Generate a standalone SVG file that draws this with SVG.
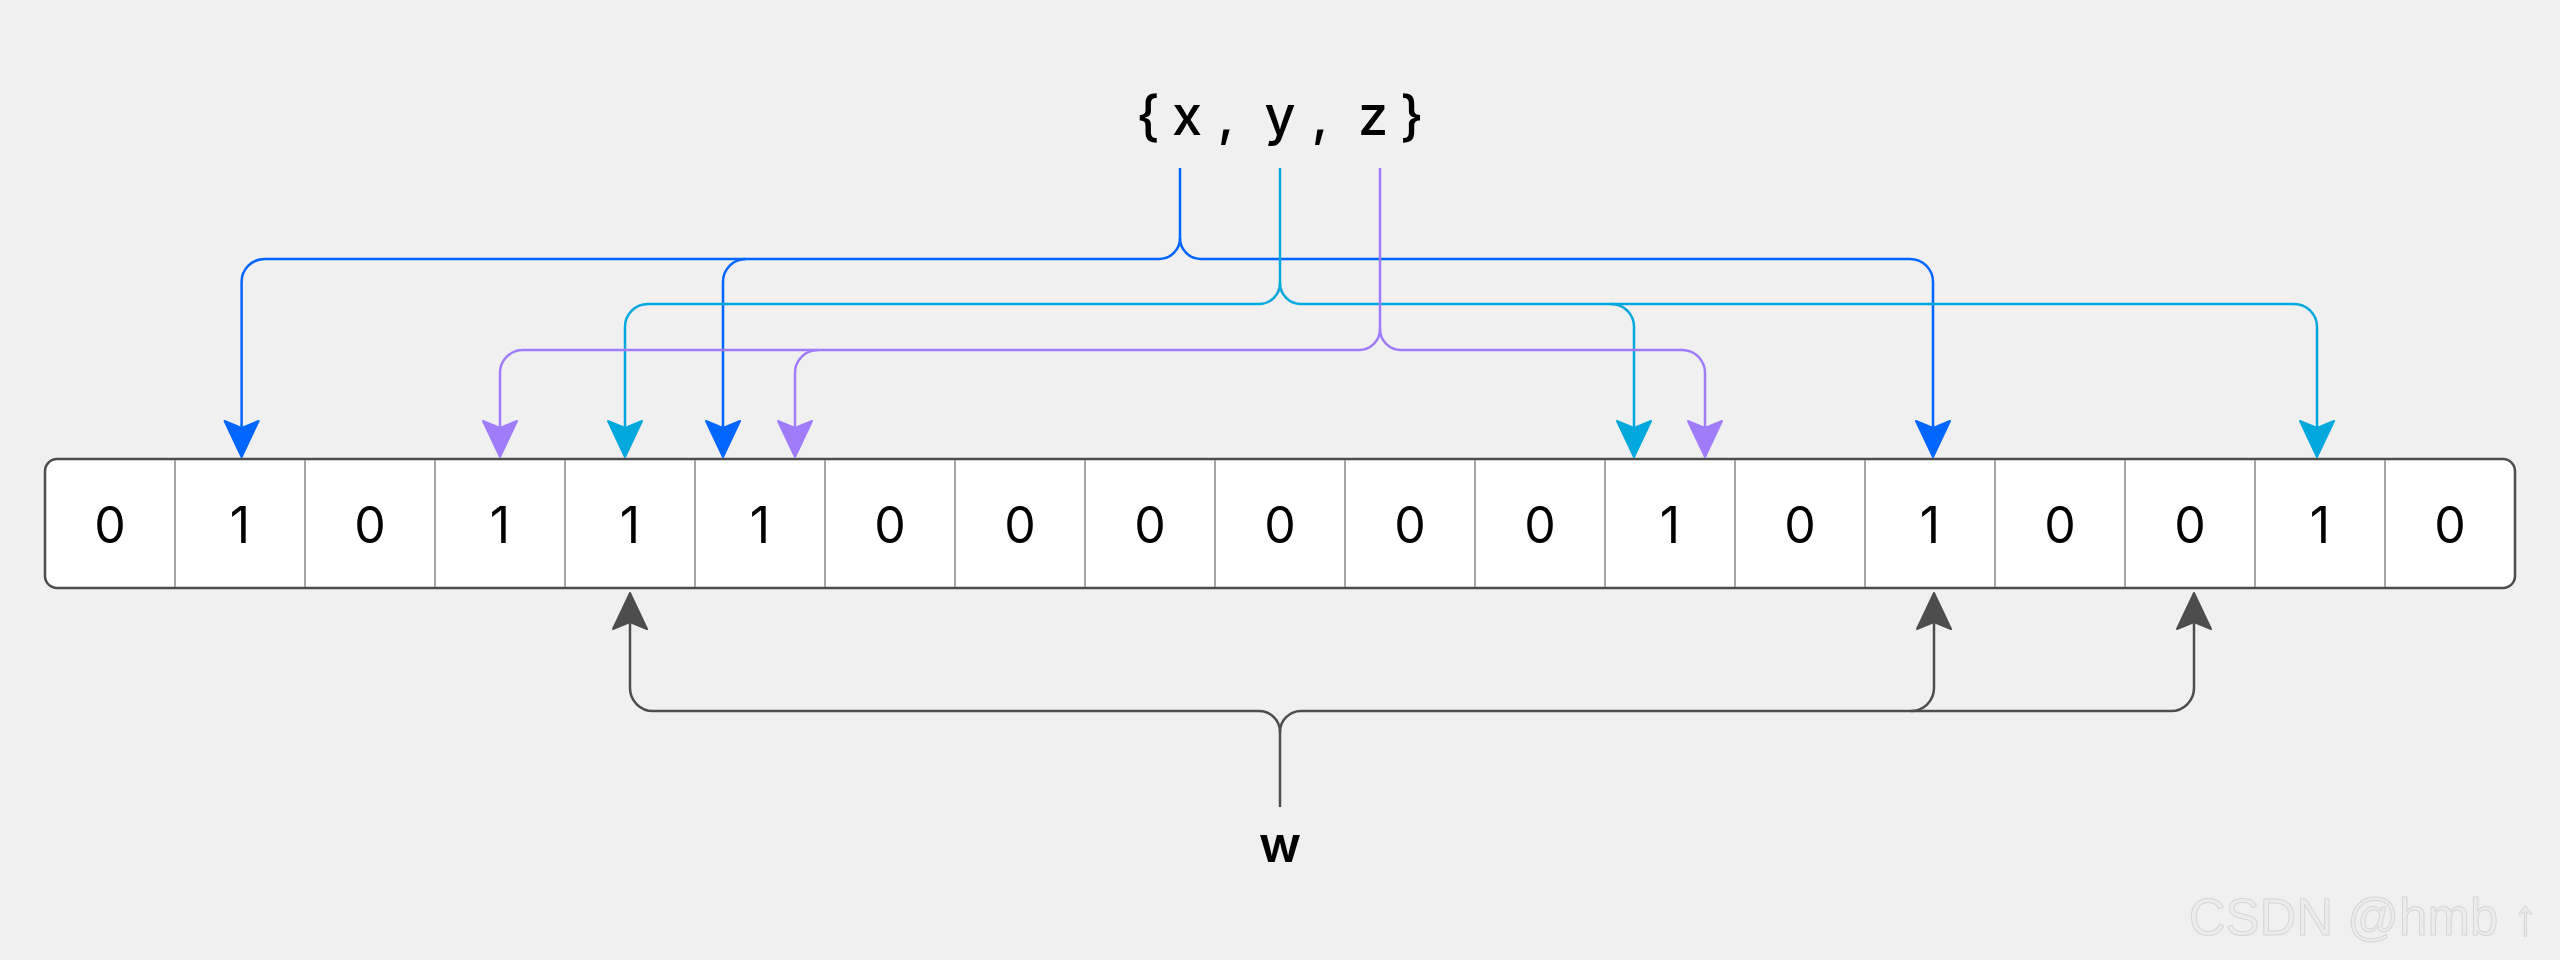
<svg xmlns="http://www.w3.org/2000/svg" width="2560" height="960" viewBox="0 0 2560 960">
  <style>
    .cell-div { stroke: #8f8f8f; stroke-width: 1.6; }
    .digit { font-family: Inter, "Liberation Sans", sans-serif; font-size: 50px; font-weight: 400; fill: #000; text-anchor: middle; }
    .label { font-family: Inter, "Liberation Sans", sans-serif; font-size: 54px; font-weight: 500; fill: #000; text-anchor: middle; }
    .conn { fill: none; stroke-width: 2.5; stroke-linecap: butt; stroke-linejoin: round; }
    .blue { stroke: #0066ff; }
    .cyan { stroke: #00a8dd; }
    .purple { stroke: #a07cfa; }
    .gray { stroke: #4d4d4d; }
    .wm { font-family: "Liberation Sans", Arial, sans-serif; font-size: 51px; fill: #ececec; stroke: #d6d6d6; stroke-width: 1; text-anchor: end; }
  </style>
  <defs>
    <marker id="ah-blue" markerUnits="userSpaceOnUse" markerWidth="40" markerHeight="40" refX="0" refY="0" orient="auto" overflow="visible">
      <path d="M29,0 L-7,-17 L0,0 L-7,17 Z" fill="#0066ff" stroke="#0066ff" stroke-width="2" stroke-linejoin="round"/>
    </marker>
    <marker id="ah-cyan" markerUnits="userSpaceOnUse" markerWidth="40" markerHeight="40" refX="0" refY="0" orient="auto" overflow="visible">
      <path d="M29,0 L-7,-17 L0,0 L-7,17 Z" fill="#00a8dd" stroke="#00a8dd" stroke-width="2" stroke-linejoin="round"/>
    </marker>
    <marker id="ah-purple" markerUnits="userSpaceOnUse" markerWidth="40" markerHeight="40" refX="0" refY="0" orient="auto" overflow="visible">
      <path d="M29,0 L-7,-17 L0,0 L-7,17 Z" fill="#a07cfa" stroke="#a07cfa" stroke-width="2" stroke-linejoin="round"/>
    </marker>
    <marker id="ah-gray" markerUnits="userSpaceOnUse" markerWidth="40" markerHeight="40" refX="0" refY="0" orient="auto" overflow="visible">
      <path d="M29,0 L-7,-17 L0,0 L-7,17 Z" fill="#4d4d4d" stroke="#4d4d4d" stroke-width="2" stroke-linejoin="round"/>
    </marker>
  </defs>

  <rect x="0" y="0" width="2560" height="960" fill="#f0f0f0"/>

  <g id="set-label">
    <text class="label" x="1148" y="135">{</text>
    <text class="label" x="1187" y="135">x</text>
    <text class="label" x="1226" y="135">,</text>
    <text class="label" x="1280" y="135">y</text>
    <text class="label" x="1320" y="135">,</text>
    <text class="label" x="1373" y="135">z</text>
    <text class="label" x="1412" y="135">}</text>
  </g>

  <g id="bit-array">
    <rect x="45" y="459" width="2470" height="129" rx="12" ry="12" fill="#ffffff" stroke="#4d4d4d" stroke-width="2.5"/>
    <line class="cell-div" x1="175" y1="460" x2="175" y2="587"/>
    <line class="cell-div" x1="305" y1="460" x2="305" y2="587"/>
    <line class="cell-div" x1="435" y1="460" x2="435" y2="587"/>
    <line class="cell-div" x1="565" y1="460" x2="565" y2="587"/>
    <line class="cell-div" x1="695" y1="460" x2="695" y2="587"/>
    <line class="cell-div" x1="825" y1="460" x2="825" y2="587"/>
    <line class="cell-div" x1="955" y1="460" x2="955" y2="587"/>
    <line class="cell-div" x1="1085" y1="460" x2="1085" y2="587"/>
    <line class="cell-div" x1="1215" y1="460" x2="1215" y2="587"/>
    <line class="cell-div" x1="1345" y1="460" x2="1345" y2="587"/>
    <line class="cell-div" x1="1475" y1="460" x2="1475" y2="587"/>
    <line class="cell-div" x1="1605" y1="460" x2="1605" y2="587"/>
    <line class="cell-div" x1="1735" y1="460" x2="1735" y2="587"/>
    <line class="cell-div" x1="1865" y1="460" x2="1865" y2="587"/>
    <line class="cell-div" x1="1995" y1="460" x2="1995" y2="587"/>
    <line class="cell-div" x1="2125" y1="460" x2="2125" y2="587"/>
    <line class="cell-div" x1="2255" y1="460" x2="2255" y2="587"/>
    <line class="cell-div" x1="2385" y1="460" x2="2385" y2="587"/>
    <text class="digit" x="110" y="543">0</text>
    <text class="digit" x="240" y="543">1</text>
    <text class="digit" x="370" y="543">0</text>
    <text class="digit" x="500" y="543">1</text>
    <text class="digit" x="630" y="543">1</text>
    <text class="digit" x="760" y="543">1</text>
    <text class="digit" x="890" y="543">0</text>
    <text class="digit" x="1020" y="543">0</text>
    <text class="digit" x="1150" y="543">0</text>
    <text class="digit" x="1280" y="543">0</text>
    <text class="digit" x="1410" y="543">0</text>
    <text class="digit" x="1540" y="543">0</text>
    <text class="digit" x="1670" y="543">1</text>
    <text class="digit" x="1800" y="543">0</text>
    <text class="digit" x="1930" y="543">1</text>
    <text class="digit" x="2060" y="543">0</text>
    <text class="digit" x="2190" y="543">0</text>
    <text class="digit" x="2320" y="543">1</text>
    <text class="digit" x="2450" y="543">0</text>
  </g>

  <g id="w-label">
    <text x="1280" y="862" font-family="Inter, 'Liberation Sans', sans-serif" font-size="50" font-weight="600" text-anchor="middle" fill="#000">w</text>
  </g>

  <g id="connectors">
    <!-- x (blue) -->
    <path class="conn blue" d="M1180,168 V238 A21,21 0 0 1 1159,259 H264.6 A23,23 0 0 0 241.6,282 V428" marker-end="url(#ah-blue)"/>
    <path class="conn blue" d="M746,259 A23,23 0 0 0 723,282 V428" marker-end="url(#ah-blue)"/>
    <path class="conn blue" d="M1180,238 A21,21 0 0 0 1201,259 H1910 A23,23 0 0 1 1933,282 V428" marker-end="url(#ah-blue)"/>
    <!-- y (cyan) -->
    <path class="conn cyan" d="M1280,168 V283 A21,21 0 0 1 1259,304 H648 A23,23 0 0 0 625,327 V428" marker-end="url(#ah-cyan)"/>
    <path class="conn cyan" d="M1280,283 A21,21 0 0 0 1301,304 H2294 A23,23 0 0 1 2317,327 V428" marker-end="url(#ah-cyan)"/>
    <path class="conn cyan" d="M1611,304 A23,23 0 0 1 1634,327 V428" marker-end="url(#ah-cyan)"/>
    <!-- z (purple) -->
    <path class="conn purple" d="M1380,168 V329 A21,21 0 0 1 1359,350 H523 A23,23 0 0 0 500,373 V428" marker-end="url(#ah-purple)"/>
    <path class="conn purple" d="M818,350 A23,23 0 0 0 795,373 V428" marker-end="url(#ah-purple)"/>
    <path class="conn purple" d="M1380,329 A21,21 0 0 0 1401,350 H1682 A23,23 0 0 1 1705,373 V428" marker-end="url(#ah-purple)"/>
    <!-- w (gray) -->
    <path class="conn gray" d="M1280,807 V732 A21,21 0 0 0 1259,711 H653 A23,23 0 0 1 630,688 V622" marker-end="url(#ah-gray)"/>
    <path class="conn gray" d="M1280,732 A21,21 0 0 1 1301,711 H2171 A23,23 0 0 0 2194,688 V622" marker-end="url(#ah-gray)"/>
    <path class="conn gray" d="M1911,711 A23,23 0 0 0 1934,688 V622" marker-end="url(#ah-gray)"/>
  </g>

  <g id="watermark">
    <text class="wm" x="2538" y="935">CSDN @hmb ↑</text>
  </g>
</svg>
